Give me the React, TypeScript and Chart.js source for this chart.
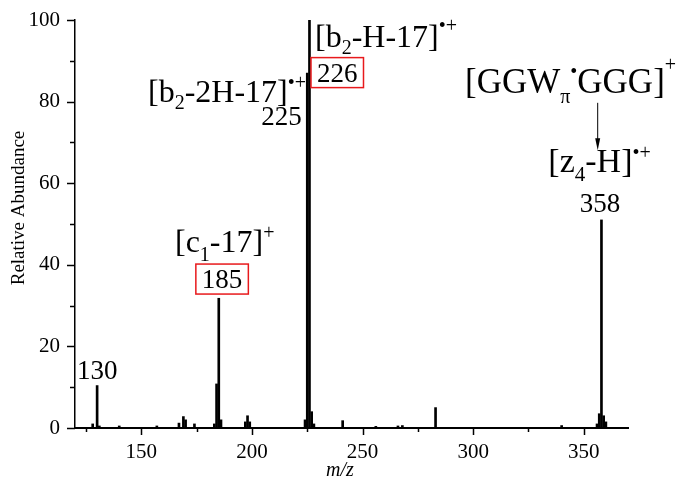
import React, { useEffect, useRef } from 'react';
import { Chart, registerables } from 'chart.js';

Chart.register(...registerables);

// ---- data ----
const mzValues = [128, 130, 131, 140, 157, 167, 169, 170, 174, 183, 184, 185, 186, 197, 198, 199, 224, 225, 226, 227, 228, 241, 256, 266, 268, 283, 340, 356, 357, 358, 359, 360];
const abundances = [1.0, 10.4, 0.5, 0.5, 0.5, 1.2, 2.8, 2.0, 1.0, 1.0, 10.8, 31.8, 2.0, 1.5, 3.0, 1.5, 2.0, 87, 100, 4, 1, 1.8, 0.4, 0.5, 0.6, 5.0, 0.6, 1.0, 3.5, 51, 3, 1.5];

const xMajorTicks = [150, 200, 250, 300, 350];
const xMinorTicks = [125, 175, 225, 275, 325];
const yMajorTicks = [0, 20, 40, 60, 80, 100];
const yMinorTicks = [10, 30, 50, 70, 90];

const xTitle = 'm/z';
const yTitle = 'Relative Abundance';

const FONT = '"Liberation Serif", "Times New Roman", serif';

type Seg = { t: string; s: number; dy?: number };
type Ann = { segs: Seg[]; mz: number; y: number; align: 'left' | 'center' | 'right'; box?: boolean };

const LBL = 32;
const NUM = 27;
const SUP = 20;

const annotations: Ann[] = [
  { segs: [{ t: '130', s: NUM }], mz: 130.1, y: 11.9, align: 'center' },
  { segs: [{ t: '185', s: NUM }], mz: 186.5, y: 34.3, align: 'center', box: true },
  { segs: [{ t: '[c', s: LBL }, { t: '1', s: SUP, dy: 9 }, { t: '-17]', s: LBL }, { t: '+', s: SUP, dy: -13 }], mz: 165.2, y: 43.2, align: 'left' },
  { segs: [{ t: '[b', s: LBL }, { t: '2', s: SUP, dy: 7 }, { t: '-2H-17]', s: LBL }, { t: '•+', s: SUP, dy: -13 }], mz: 153.0, y: 79.9, align: 'left' },
  { segs: [{ t: '225', s: NUM }], mz: 222.5, y: 74.3, align: 'right' },
  { segs: [{ t: '[b', s: LBL }, { t: '2', s: SUP, dy: 7 }, { t: '-H-17]', s: LBL }, { t: '•+', s: SUP, dy: -15 }], mz: 228.5, y: 93.5, align: 'left' },
  { segs: [{ t: '226', s: NUM }], mz: 229.4, y: 84.9, align: 'left', box: true },
  { segs: [{ t: '[GGW', s: 35 }, { t: 'π', s: SUP, dy: 10 }, { t: '•', s: SUP, dy: -15 }, { t: 'GGG]', s: 35 }, { t: '+', s: SUP, dy: -22 }], mz: 296.3, y: 82.0, align: 'left' },
  { segs: [{ t: '[z', s: 34 }, { t: '4', s: 21, dy: 9 }, { t: '-H]', s: 34 }, { t: '•+', s: SUP, dy: -13 }], mz: 334.0, y: 62.8, align: 'left' },
  { segs: [{ t: '358', s: NUM }], mz: 357.3, y: 53.0, align: 'center' },
];

const arrowMz = 356.3;
const arrowFrom = 79.7;
const arrowTo = 68.1;

function drawRich(ctx: CanvasRenderingContext2D, segs: Seg[], x: number, y: number, align: string) {
  let w = 0;
  const widths: number[] = [];
  for (const s of segs) {
    ctx.font = `${s.s}px ${FONT}`;
    const m = ctx.measureText(s.t).width;
    widths.push(m);
    w += m;
  }
  let cx = align === 'left' ? x : align === 'center' ? x - w / 2 : x - w;
  const x0 = cx;
  segs.forEach((s, i) => {
    ctx.font = `${s.s}px ${FONT}`;
    ctx.fillText(s.t, cx, y + (s.dy || 0));
    cx += widths[i];
  });
  return { x0, x1: cx };
}

const overlayPlugin = {
  id: 'overlay',
  afterDraw(chart: any) {
    const ctx: CanvasRenderingContext2D = chart.ctx;
    const xs = chart.scales.x;
    const ys = chart.scales.y;
    const area = chart.chartArea;
    ctx.save();
    ctx.strokeStyle = '#000';
    ctx.fillStyle = '#000';
    ctx.lineWidth = 1.5;
    ctx.beginPath();
    for (const v of xMajorTicks) {
      const px = Math.round(xs.getPixelForValue(v)) + 0.5;
      ctx.moveTo(px, area.bottom);
      ctx.lineTo(px, area.bottom + 7);
    }
    for (const v of xMinorTicks) {
      const px = Math.round(xs.getPixelForValue(v)) + 0.5;
      ctx.moveTo(px, area.bottom);
      ctx.lineTo(px, area.bottom + 4);
    }
    for (const v of yMajorTicks) {
      const py = Math.round(ys.getPixelForValue(v)) + 0.5;
      ctx.moveTo(area.left, py);
      ctx.lineTo(area.left - 8, py);
    }
    for (const v of yMinorTicks) {
      const py = Math.round(ys.getPixelForValue(v)) + 0.5;
      ctx.moveTo(area.left, py);
      ctx.lineTo(area.left - 5, py);
    }
    ctx.stroke();

    ctx.textBaseline = 'alphabetic';
    ctx.textAlign = 'center';
    ctx.font = `italic 20px ${FONT}`;
    ctx.fillText(xTitle, 340, 476);
    ctx.save();
    ctx.translate(24, 208);
    ctx.rotate(-Math.PI / 2);
    ctx.font = `19px ${FONT}`;
    ctx.fillText(yTitle, 0, 0);
    ctx.restore();

    ctx.textAlign = 'left';
    for (const a of annotations) {
      const x = xs.getPixelForValue(a.mz);
      const y = ys.getPixelForValue(a.y);
      const r = drawRich(ctx, a.segs, x, y, a.align);
      if (a.box) {
        ctx.save();
        ctx.strokeStyle = '#e8191c';
        ctx.lineWidth = 1.5;
        ctx.strokeRect(r.x0 - 6, y - 24, r.x1 - r.x0 + 12, 30);
        ctx.restore();
      }
    }

    const ax = xs.getPixelForValue(arrowMz);
    const ay0 = ys.getPixelForValue(arrowFrom);
    const ay1 = ys.getPixelForValue(arrowTo);
    ctx.lineWidth = 1;
    ctx.beginPath();
    ctx.moveTo(ax, ay0);
    ctx.lineTo(ax, ay1 - 10);
    ctx.stroke();
    ctx.beginPath();
    ctx.moveTo(ax - 2.5, ay1 - 12);
    ctx.lineTo(ax + 2.5, ay1 - 12);
    ctx.lineTo(ax, ay1);
    ctx.closePath();
    ctx.fill();
    ctx.restore();
  },
};

export default function App() {
  const ref = useRef<HTMLCanvasElement | null>(null);
  useEffect(() => {
    if (!ref.current) return;
    const chart = new Chart(ref.current, {
      type: 'bar',
      data: {
        datasets: [
          {
            data: mzValues.map((m, i) => ({ x: m, y: abundances[i] })),
            backgroundColor: '#000',
            borderWidth: 0,
            barThickness: 2,
          },
        ],
      },
      options: {
        responsive: false,
        animation: false,
        devicePixelRatio: 1,
        layout: { padding: { top: 20, right: 59, left: 0, bottom: 0 } },
        plugins: { legend: { display: false }, tooltip: { enabled: false } },
        scales: {
          x: {
            type: 'linear',
            min: 120,
            max: 370,
            offset: false,
            grid: { display: false, drawTicks: false },
            border: { display: true, color: '#000', width: 2 },
            ticks: { padding: 12, color: '#000', font: { family: FONT, size: 21 }, maxRotation: 0, autoSkip: false },
            afterBuildTicks: (s: any) => {
              s.ticks = xMajorTicks.map((v) => ({ value: v }));
            },
            afterFit: (s: any) => {
              s.height = 55;
              s.paddingLeft = 0;
              s.paddingRight = 0;
            },
          },
          y: {
            min: 0,
            max: 100,
            grid: { display: false, drawTicks: false },
            border: { display: true, color: '#000', width: 1.5 },
            ticks: { padding: 15, color: '#000', font: { family: FONT, size: 21 } },
            afterBuildTicks: (s: any) => {
              s.ticks = yMajorTicks.map((v) => ({ value: v }));
            },
            afterFit: (s: any) => {
              s.width = 75;
              s.paddingTop = 0;
              s.paddingBottom = 0;
            },
          },
        },
      },
      plugins: [overlayPlugin],
    });
    return () => chart.destroy();
  }, []);
  return (
    <div style={{ position: 'absolute', left: 0, top: 0, width: 687, height: 483, background: '#fff' }}>
      <canvas ref={ref} width={687} height={483} style={{ display: 'block' }} />
    </div>
  );
}
